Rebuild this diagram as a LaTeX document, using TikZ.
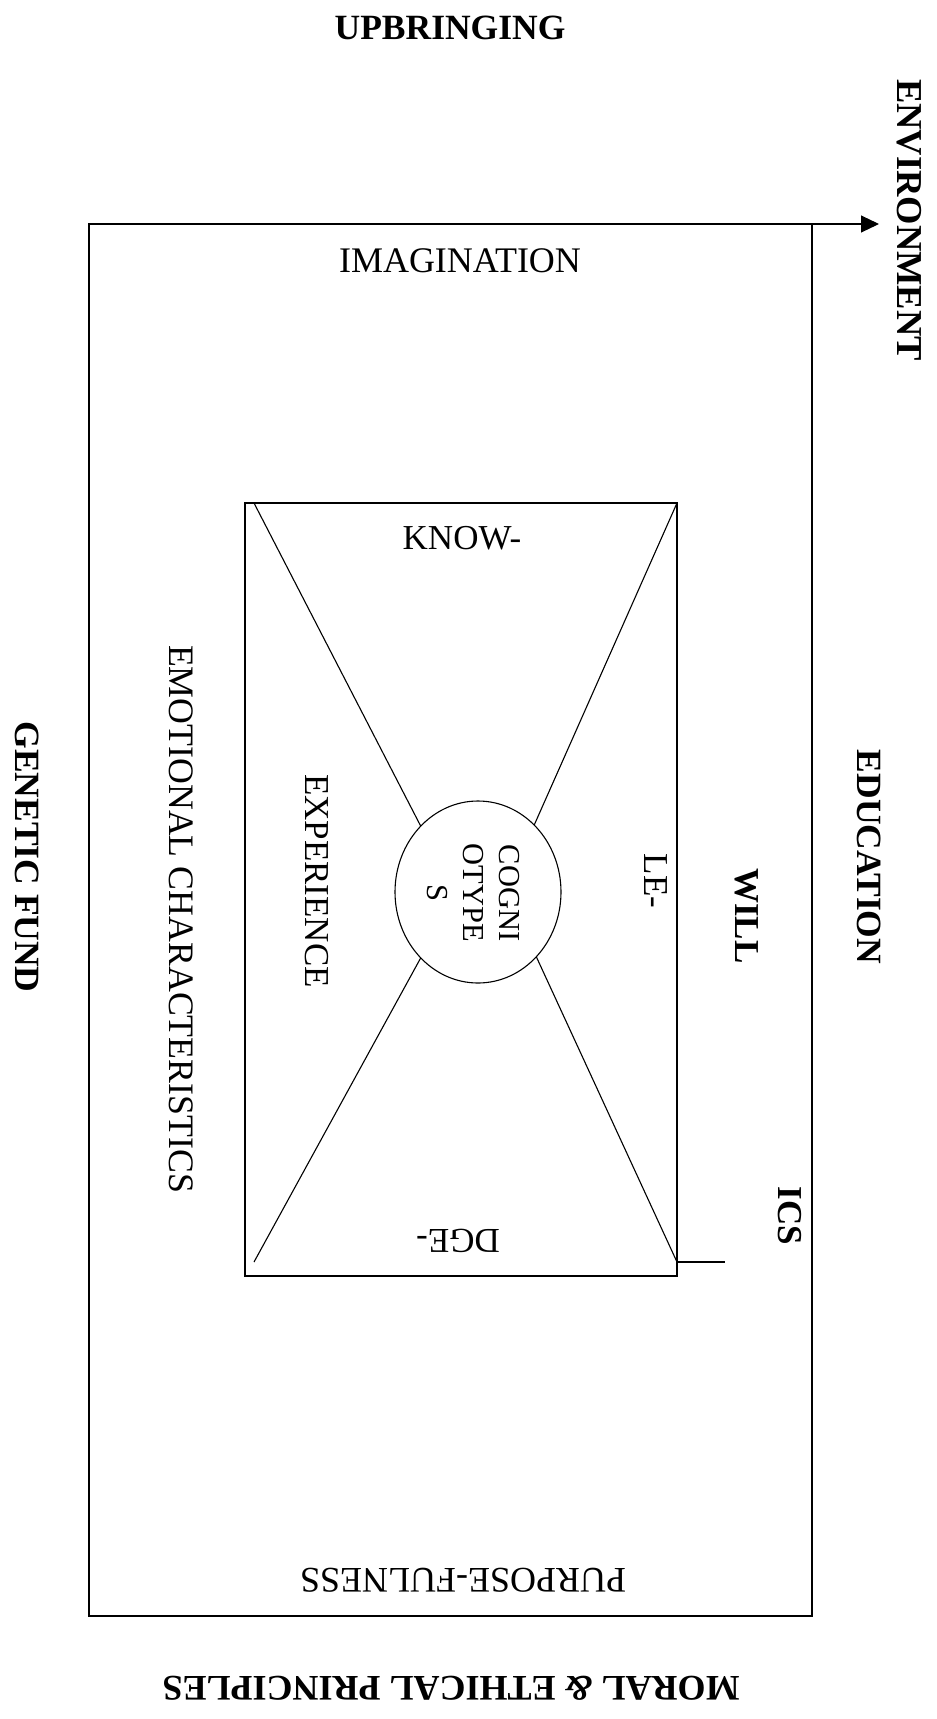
\documentclass[tikz,border=0pt]{standalone}
\usepackage{fontspec}
\setmainfont{Liberation Serif}
\usetikzlibrary{arrows.meta,shapes.geometric}
\tikzset{
  every node/.style={inner sep=0pt,outer sep=0pt},
  lbl/.style={font=\fontsize{35}{40}\selectfont},
  blbl/.style={font=\fontsize{35}{40}\selectfont\bfseries},
  ln/.style={line width=1.1pt},
}
\begin{document}
\begin{tikzpicture}[x=1pt,y=-1pt]
\useasboundingbox (0,0) rectangle (937,1719);
% outer frame
\node[draw,ln,minimum width=723pt,minimum height=1392pt] (outer) at (450.5,920) {};
\coordinate (envtip) at (879,224);
\draw[ln,-{Triangle[length=18pt,width=17pt]}] (outer.north east) -- (envtip);
% inner box
\node[draw,ln,minimum width=432pt,minimum height=773pt] (inner) at (461,889.5) {};
% centre ellipse
\node[draw,ellipse,ln,minimum width=166pt,minimum height=182pt] (cog) at (478,892) {};
\node[rotate=-90,align=center,font=\fontsize{30.5}{36}\selectfont] (cogtext) at (473,893) {COGNI\\OTYPE\\S};
% diagonal corner points
\coordinate (tl) at (254,503);
\coordinate (tr) at (inner.north east);
\coordinate (bl) at (254,1262);
\coordinate (br) at (677,1262);
\coordinate (brend) at (725,1262);
\draw[ln] (tl) -- (cog.131);
\draw[ln] (tr) -- (cog.50);
\draw[ln] (bl) -- (cog.229);
\draw[ln] (br) -- (cog.312);
\draw[ln] (br) -- (brend);
% outside labels
\node[blbl,font=\fontsize{35.5}{40}\selectfont\bfseries] (upb) at (450,28) {UPBRINGING};
\node[blbl,rotate=-90,font=\fontsize{36.5}{40}\selectfont\bfseries] (env) at (909,220) {ENVIRONMENT};
\node[blbl,rotate=-90,font=\fontsize{35.5}{40}\selectfont\bfseries] (gen) at (27,857) {GENETIC FUND};
\node[blbl,rotate=-90,font=\fontsize{35.5}{40}\selectfont\bfseries] (edu) at (869,857) {EDUCATION};
\node[blbl,rotate=180,font=\fontsize{36}{40}\selectfont\bfseries] (moral) at (451,1688) {MORAL \textit{\&} ETHICAL PRINCIPLES};
% labels inside outer frame
\node[lbl,font=\fontsize{36}{40}\selectfont] (imag) at (460,261) {IMAGINATION};
\node[lbl,rotate=-90,font=\fontsize{35.8}{40}\selectfont] (emo) at (181,919) {EMOTIONAL CHARACTERISTICS};
\node[blbl,rotate=-90] (will) at (747,916) {WILL};
\node[blbl,rotate=-90] (ics) at (790,1216) {ICS};
\node[lbl,rotate=180,font=\fontsize{36}{40}\selectfont] (purp) at (463,1580) {PURPOSE-FULNESS};
% labels inside inner box
\node[lbl] (know) at (462,538) {KNOW-};
\node[lbl,rotate=180] (dge) at (458,1241) {DGE-};
\node[lbl,rotate=-90] (le) at (656,881) {LE-};
\node[lbl,rotate=-90] (exp) at (317,881) {EXPERIENCE};
\end{tikzpicture}
\end{document}
